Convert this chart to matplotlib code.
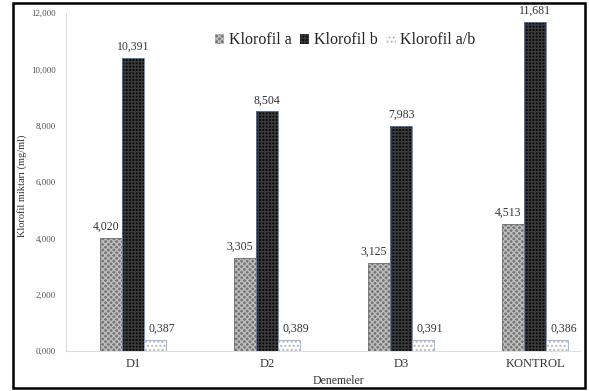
import matplotlib
matplotlib.use("Agg")
import matplotlib.pyplot as plt
from matplotlib.patches import Rectangle
import numpy as np

categories = ["D1", "D2", "D3", "KONTROL"]
klorofil_a = [4.020, 3.305, 3.125, 4.513]
klorofil_b = [10.391, 8.504, 7.983, 11.681]
klorofil_ab = [0.387, 0.389, 0.391, 0.386]
series_names = ["Klorofil a", "Klorofil b", "Klorofil a/b"]
y_ticks = [0, 2, 4, 6, 8, 10, 12]

plt.rcParams["font.family"] = ["Liberation Serif", "DejaVu Serif"]

fig = plt.figure(figsize=(5.89, 3.91), dpi=100)
ax = fig.add_axes([0.112, 0.1023, 0.873, 0.8645])

x = np.arange(len(categories))
w = 0.164

styles = [
    dict(face="#747474", hatch="xxxxxx", hcol="#bdbdbd", edge="#747474", dx=-0.04),
    dict(face="#0a0a0a", hatch="+++++", hcol="#3a3a3a", edge="#5b7fb5", dx=0.0),
    dict(face="#ffffff", hatch="....", hcol="#b8b8b8", edge="#8eaedb", dx=0.05),
]

handles = []
for i, (vals, st, name) in enumerate(zip([klorofil_a, klorofil_b, klorofil_ab], styles, series_names)):
    pos = x + (i - 1) * w
    ax.bar(pos, vals, w, color=st["face"], hatch=st["hatch"],
           edgecolor=st["hcol"], linewidth=0, label=name, zorder=2)
    ax.bar(pos, vals, w, fill=False, edgecolor=st["edge"], linewidth=0.6, zorder=3)
    handles.append(Rectangle((0, 0), 1, 1, facecolor=st["face"], hatch=st["hatch"],
                             edgecolor=st["hcol"], linewidth=0))
    for p, v in zip(pos, vals):
        ax.text(p + st["dx"], v + 0.18, f"{v:.3f}".replace(".", ","), ha="center", va="bottom",
                fontsize=8.5, color="#333333")

ax.set_xlim(-0.5, 3.336)
ax.set_ylim(0, 12)
ax.set_yticks(y_ticks)
ax.set_yticklabels([f"{t:d},000" for t in y_ticks], fontsize=6.5, color="#555555")
ax.set_xticks(x)
ax.set_xticklabels(categories, fontsize=9, color="#333333")
ax.tick_params(axis="both", length=0)
ax.tick_params(axis="y", pad=7)
ax.tick_params(axis="x", pad=5)

for s in ["top", "right"]:
    ax.spines[s].set_visible(False)
ax.spines["left"].set_color("#dddddd")
ax.spines["bottom"].set_color("#dddddd")
ax.spines["left"].set_linewidth(0.8)
ax.spines["bottom"].set_linewidth(0.8)

ax.set_ylabel("Klorofil miktarı (mg/ml)", fontsize=7.5, color="#333333")
ax.yaxis.set_label_coords(-0.076, 0.49)
ax.set_xlabel("Denemeler", fontsize=8.5, color="#333333")
ax.xaxis.set_label_coords(0.529, -0.071)

leg = ax.legend(handles, series_names, loc="upper center", bbox_to_anchor=(0.543, 0.985),
                ncol=3, frameon=False, fontsize=11.5, handlelength=0.6, handleheight=0.6,
                handletextpad=0.3, columnspacing=0.5)
for t in leg.get_texts():
    t.set_color("#222222")

# outer frame around the figure
fig.patches.append(Rectangle((0.022, 0.008), 0.971, 0.984, transform=fig.transFigure,
                             fill=False, edgecolor="black", linewidth=1.8))

fig.savefig("out.png", dpi=100)
